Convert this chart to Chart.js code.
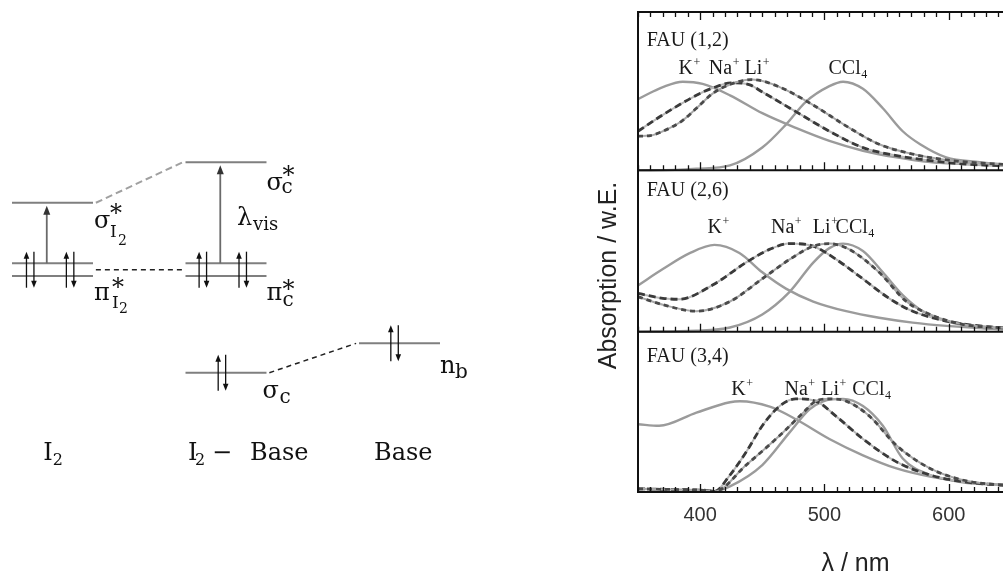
<!DOCTYPE html>
<html>
<head>
<meta charset="utf-8">
<title>I2 charge transfer spectra</title>
<script src="https://cdn.jsdelivr.net/npm/chart.js@4.4.1/dist/chart.umd.min.js"></script>
<style>
  html, body { margin: 0; padding: 0; background: #fff; overflow: hidden; width: 1003px; height: 578px; }
  canvas { position: absolute; top: 0; }
  #diagram { left: 0; }
  #spectra { left: 560px; }
</style>
</head>
<body>
<canvas id="diagram" width="560" height="578"></canvas>
<canvas id="spectra" width="513" height="590"></canvas>
<script>
// ---------- energy level diagram (left) ----------
// columns: 0 = I2, 1 = I2 - Base, 2 = Base ; energies in arbitrary units
var columnNames = ['I2', 'I2 - Base', 'Base'];
var levelCol = [0, 0, 0, 1, 1, 1, 1, 2];
var levelE   = [0.65, 0.062, -0.061, 1.043, 0.062, -0.062, -1.0, -0.715];
var corrFrom = [[0, 0.65], [0, 0], [1, -1.0]];
var corrTo   = [[1, 1.043], [1, 0], [2, -0.715]];
var exciteCol  = [0, 1];
var exciteFrom = [0.062, 0.062];
var exciteTo   = [0.65, 1.043];
var pairCol = [0, 0, 1, 1, 1, 2];
var pairOff = [-0.15, 0.08, -0.155, 0.075, -0.045, -0.05];
var pairE   = [0, 0, 0, 0, -1.0, -0.715];

// ---------- spectra (right), absorbance normalised per panel ----------
var tickNm = [400, 500, 600];
var panelNames = ['FAU (1,2)', 'FAU (2,6)', 'FAU (3,4)'];

var fau12K    = [[350,0.45],[360,0.49],[370,0.526],[386,0.56],[402,0.546],[424,0.474],[450,0.361],[477,0.268],[504,0.186],[531,0.124],[558,0.082],[585,0.052],[611,0.04],[640,0.03],[700,0.02]];
var fau12Na   = [[350,0.247],[370,0.351],[397,0.474],[410,0.52],[426,0.553],[440,0.54],[450,0.495],[477,0.371],[504,0.247],[531,0.144],[558,0.093],[585,0.062],[611,0.041],[640,0.03],[700,0.02]];
var fau12Li   = [[350,0.216],[360,0.22],[370,0.247],[385,0.31],[397,0.392],[410,0.485],[425,0.545],[442,0.573],[464,0.526],[491,0.412],[518,0.278],[544,0.165],[571,0.103],[598,0.066],[640,0.04],[700,0.03]];
var fau12CCl4 = [[350,0],[380,0.003],[397,0.01],[424,0.031],[450,0.144],[469,0.289],[485,0.433],[504,0.532],[515,0.56],[531,0.515],[547,0.392],[563,0.247],[577,0.165],[598,0.082],[625,0.052],[640,0.04],[700,0.03]];

var fau26K    = [[350,0.287],[370,0.388],[392,0.488],[411.5,0.538],[431.6,0.488],[450,0.368],[469,0.267],[491,0.187],[517.5,0.127],[544,0.086],[571,0.056],[598,0.036],[640,0.016],[700,0.01]];
var fau26Na   = [[350,0.237],[370,0.207],[383,0.201],[410,0.289],[437,0.429],[455.8,0.51],[472,0.546],[491,0.53],[509.5,0.448],[531,0.327],[552,0.207],[571,0.127],[598,0.066],[640,0.026],[700,0.015]];
var fau26Li   = [[350,0.217],[370,0.167],[397,0.127],[424,0.187],[450,0.328],[472,0.448],[491,0.53],[504,0.546],[520,0.51],[544,0.368],[566,0.187],[585,0.107],[611,0.046],[640,0.026],[700,0.015]];
var fau26CCl4 = [[350,0],[397,0.006],[424,0.026],[450,0.107],[472,0.247],[491,0.428],[504,0.518],[515,0.546],[531,0.5],[547,0.368],[563,0.227],[579,0.127],[598,0.066],[625,0.026],[640,0.016],[700,0.01]];

var fau34K    = [[350,0.423],[367,0.413],[397,0.495],[424,0.56],[432,0.566],[456,0.532],[477,0.454],[504,0.331],[531,0.229],[558,0.147],[585,0.096],[611,0.065],[640,0.045],[700,0.03]];
var fau34Na   = [[350,0.02],[380,0.015],[405,0.01],[411.5,0.004],[424,0.106],[437,0.249],[450,0.413],[464,0.536],[477,0.581],[493,0.567],[509,0.475],[531,0.331],[558,0.188],[585,0.106],[611,0.065],[640,0.045],[700,0.03]];
var fau34Li   = [[350,0.02],[380,0.015],[405,0.01],[411.5,0.004],[437,0.168],[464,0.352],[483,0.495],[493,0.567],[504,0.581],[517.5,0.567],[536,0.475],[558,0.29],[585,0.147],[611,0.075],[640,0.045],[700,0.03]];
var fau34CCl4 = [[350,0],[411.5,0.004],[424,0.035],[450,0.168],[472,0.372],[488,0.515],[499,0.566],[515,0.581],[531,0.536],[547,0.413],[563,0.209],[585,0.106],[611,0.061],[640,0.045],[700,0.03]];

// ---------- left chart ----------
var colPx = 173.5, col0Px = 52.5, eUnitPx = 103, e0Px = 269.7;
var halfW = 0.2334, spinHalf = 0.175, spinGap = 0.043;
var SERIF = '"DejaVu Serif", serif';

function seg(x1, y1, x2, y2, extra) {
  var ds = { data: [{x: x1, y: y1}, {x: x2, y: y2}], showLine: true, pointRadius: 0,
             borderColor: '#7f7f7f', borderWidth: 2, borderCapStyle: 'butt' };
  for (var k in extra) ds[k] = extra[k];
  return ds;
}

var diagramSets = [];
levelCol.forEach(function (c, i) {
  diagramSets.push(seg(c - halfW, levelE[i], c + halfW, levelE[i], {}));
});
corrFrom.forEach(function (f, i) {
  diagramSets.push(seg(f[0] + 0.25, f[1], corrTo[i][0] - 0.25, corrTo[i][1],
    i === 0 ? {borderColor: '#a0a0a0', borderWidth: 2, borderDash: [7, 4]}
            : {borderColor: '#222', borderWidth: 1.5, borderDash: [5, 4]}));
});

function arrow(ctx, x, yFrom, yTip, head, half) {
  var dir = yTip < yFrom ? 1 : -1;
  ctx.beginPath(); ctx.moveTo(x, yFrom); ctx.lineTo(x, yTip + dir * head * 0.7); ctx.stroke();
  ctx.beginPath(); ctx.moveTo(x, yTip); ctx.lineTo(x - half, yTip + dir * head);
  ctx.lineTo(x + half, yTip + dir * head); ctx.closePath(); ctx.fill();
}

function put(ctx, x, y, parts, family) {
  parts.forEach(function (p) {
    ctx.font = p[1] + 'px ' + family;
    ctx.fillText(p[0], x + p[2], y + p[3]);
  });
}

var diagramDeco = {
  id: 'diagramDeco',
  afterDatasetsDraw: function (chart) {
    var ctx = chart.ctx, sx = chart.scales.x, sy = chart.scales.y;
    ctx.save();
    ctx.strokeStyle = '#6a6a6a'; ctx.fillStyle = '#333'; ctx.lineWidth = 1.8;
    exciteCol.forEach(function (c, i) {
      arrow(ctx, sx.getPixelForValue(c - 0.033), sy.getPixelForValue(exciteFrom[i]),
            sy.getPixelForValue(exciteTo[i]) + 3, 9, 3.5);
    });
    ctx.strokeStyle = '#111'; ctx.fillStyle = '#111'; ctx.lineWidth = 1.3;
    pairCol.forEach(function (c, i) {
      var xu = sx.getPixelForValue(c + pairOff[i]);
      var xd = sx.getPixelForValue(c + pairOff[i] + spinGap);
      var top = sy.getPixelForValue(pairE[i] + spinHalf), bot = sy.getPixelForValue(pairE[i] - spinHalf);
      arrow(ctx, xu, bot, top, 7, 2.8);
      arrow(ctx, xd, top, bot, 7, 2.8);
    });
    ctx.restore();
  },
  afterDraw: function (chart) {
    var ctx = chart.ctx, sx = chart.scales.x, sy = chart.scales.y;
    function right(i) { return [sx.getPixelForValue(levelCol[i] + halfW), sy.getPixelForValue(levelE[i])]; }
    ctx.save();
    ctx.fillStyle = '#111'; ctx.textBaseline = 'alphabetic'; ctx.textAlign = 'left';
    var a;
    a = right(0); put(ctx, a[0], a[1], [['σ', 24, 1, 25], ['*', 24, 17, 18], ['I', 17, 17, 34], ['2', 14, 25, 42]], SERIF);
    a = right(2); put(ctx, a[0], a[1], [['π', 24, 1, 24], ['*', 24, 19, 19.5], ['I', 17, 19, 32], ['2', 14, 26, 37]], SERIF);
    a = right(3); put(ctx, a[0], a[1], [['σ', 24, 0, 27.7], ['*', 24, 16, 21], ['c', 20, 15, 31]], SERIF);
    a = right(5); put(ctx, a[0], a[1], [['π', 24, 0, 24], ['*', 24, 16, 21], ['c', 20, 16, 30]], SERIF);
    a = right(6); put(ctx, a[0], a[1], [['σ', 24, -4, 25.3], ['c', 20, 13, 30]], SERIF);
    a = right(7); put(ctx, a[0], a[1], [['n', 24, 0, 29.7], ['b', 20, 15, 34.7]], SERIF);
    // lambda_vis next to the charge transfer arrow
    var cx = sx.getPixelForValue(1), cy = sy.getPixelForValue(0);
    put(ctx, cx, cy, [['λ', 24, 11, -44.7], ['vis', 18, 27, -39.7]], SERIF);
    // column captions
    var by = 460;
    put(ctx, sx.getPixelForValue(0), by, [['I', 24, -9.2, 0], ['2', 16, 0.2, 5]], SERIF);
    put(ctx, sx.getPixelForValue(1), by, [['I', 24, -38, 0], ['2', 16, -31, 5], ['−', 24, -14, 0], ['Base', 24, 24, 0]], SERIF);
    put(ctx, sx.getPixelForValue(2), by, [['Base', 24, -25.5, 0]], SERIF);
    ctx.restore();
  }
};

new Chart(document.getElementById('diagram'), {
  type: 'scatter',
  data: { datasets: diagramSets },
  options: {
    responsive: false, animation: false, events: [],
    layout: { padding: 0 },
    plugins: { legend: { display: false }, tooltip: { enabled: false } },
    scales: {
      x: { type: 'linear', display: false, min: -col0Px / colPx, max: (560 - col0Px) / colPx },
      y: { type: 'linear', display: false, min: -(578 - e0Px) / eUnitPx, max: e0Px / eUnitPx }
    }
  },
  plugins: [diagramDeco]
});

// ---------- right chart ----------
var SANS = '"Liberation Sans", Arial, sans-serif';
var TIMES = '"Liberation Serif", "Times New Roman", serif';
var panelAxes = ['yTop', 'yMid', 'yBot'];
var panelEdges = [12, 174, 339, 503];
var panelSeries = [
  [fau12K, fau12Na, fau12Li, fau12CCl4],
  [fau26K, fau26Na, fau26Li, fau26CCl4],
  [fau34K, fau34Na, fau34Li, fau34CCl4]
];
// label anchors: [nm, panel value] for the panel name and species labels
var labelNameAt = [[357, 0.786], [357, 0.842], [357, 0.811]];
var labelSpeciesNm = [[382.6, 407, 435.7, 503.3], [406, 457, 490.7, 509], [425, 467.9, 497.4, 522.4]];
var labelSpeciesV = [0.611, 0.61, 0.604];

function xy(arr) { return arr.map(function (p) { return {x: p[0], y: p[1]}; }); }

var spectraSets = [];
panelSeries.forEach(function (s, i) {
  var ax = panelAxes[i];
  var common = { yAxisID: ax, pointRadius: 0, cubicInterpolationMode: 'monotone', fill: false };
  function add(data, style) { var d = { data: xy(data) }; for (var k in common) d[k] = common[k]; for (var k2 in style) d[k2] = style[k2]; spectraSets.push(d); }
  add(s[0], { borderColor: '#9b9b9b', borderWidth: 2.4, order: 5 });
  add(s[3], { borderColor: '#9b9b9b', borderWidth: 2.4, order: 5 });
  add(s[1], { borderColor: '#b8b8b8', borderWidth: 2, order: 4 });
  add(s[1], { borderColor: '#3a3a3a', borderWidth: 2.8, borderDash: [7, 4], order: 3 });
  add(s[2], { borderColor: '#a8a8a8', borderWidth: 2, order: 2 });
  add(s[2], { borderColor: '#4a4a4a', borderWidth: 2.8, borderDash: [5, 4], order: 1 });
});

var yScales = {};
panelAxes.forEach(function (id, i) {
  var top = panelEdges[i], bot = panelEdges[i + 1], h = bot - top;
  yScales[id] = { type: 'linear', display: false,
                  min: -(panelEdges[3] - bot) / h, max: (bot - panelEdges[0]) / h };
});

var frame = {
  id: 'frame',
  afterDatasetsDraw: function (chart) {
    var ctx = chart.ctx, a = chart.chartArea, sx = chart.scales.x;
    ctx.save();
    ctx.strokeStyle = '#111'; ctx.lineWidth = 2;
    ctx.beginPath(); ctx.moveTo(a.left, a.top - 1); ctx.lineTo(a.left, a.bottom + 1); ctx.stroke();
    panelAxes.forEach(function (id, i) {
      var s = chart.scales[id];
      var top = s.getPixelForValue(1), bot = s.getPixelForValue(0);
      ctx.lineWidth = 2;
      ctx.beginPath();
      if (i === 0) { ctx.moveTo(a.left, top); ctx.lineTo(a.right, top); }
      ctx.moveTo(a.left, bot); ctx.lineTo(a.right, bot);
      ctx.stroke();
      ctx.lineWidth = 1.3;
      ctx.beginPath();
      for (var v = 350; v <= 700; v += 10) {
        var px = Math.round(sx.getPixelForValue(v)) + 0.5;
        var len = v % 100 === 0 ? 8 : 5;
        if (i === 0) { ctx.moveTo(px, top); ctx.lineTo(px, top + len); }
        ctx.moveTo(px, bot); ctx.lineTo(px, bot - len);
      }
      ctx.stroke();
    });
    ctx.restore();
  },
  afterDraw: function (chart) {
    var ctx = chart.ctx, sx = chart.scales.x;
    ctx.save();
    ctx.fillStyle = '#1a1a1a'; ctx.textBaseline = 'alphabetic'; ctx.textAlign = 'left';
    panelAxes.forEach(function (id, i) {
      var s = chart.scales[id];
      ctx.font = '20px ' + TIMES;
      ctx.fillText(panelNames[i], sx.getPixelForValue(labelNameAt[i][0]), s.getPixelForValue(labelNameAt[i][1]));
      var y = s.getPixelForValue(labelSpeciesV[i]);
      var sp = [[['K', 20, 0], ['+', 12, -8]], [['Na', 20, 0], ['+', 12, -8]], [['Li', 20, 0], ['+', 12, -8]], [['CCl', 20, 0], ['4', 12, 4]]];
      sp.forEach(function (parts, j) {
        var x = sx.getPixelForValue(labelSpeciesNm[i][j]);
        parts.forEach(function (p) {
          ctx.font = p[1] + 'px ' + TIMES;
          ctx.fillText(p[0], x, y + p[2]);
          x += ctx.measureText(p[0]).width + (p[1] < 20 ? 1 : 0.5);
        });
      });
    });
    // y axis caption
    ctx.translate(49, (panelEdges[0] + panelEdges[3]) / 2 + 18);
    ctx.rotate(-Math.PI / 2);
    ctx.textAlign = 'center'; ctx.textBaseline = 'middle';
    ctx.fillStyle = '#222';
    ctx.font = '25px ' + SANS;
    ctx.fillText('Absorption / w.E.', 0, 0);
    ctx.restore();
  }
};

var xScale = {
  type: 'linear', min: 350, max: 700,
  grid: { display: false, drawTicks: false },
  border: { display: false },
  afterBuildTicks: function (axis) { axis.ticks = tickNm.map(function (v) { return {value: v}; }); },
  ticks: { padding: 11, color: '#333', font: { family: SANS, size: 20 } },
  title: { display: true, text: 'λ / nm', color: '#222', font: { family: SANS, size: 25 }, padding: { top: 11, bottom: 4 } }
};
var allScales = { x: xScale };
for (var k in yScales) allScales[k] = yScales[k];

new Chart(document.getElementById('spectra'), {
  type: 'line',
  data: { datasets: spectraSets },
  options: {
    responsive: false, animation: false, events: [],
    layout: { padding: { left: 78, right: 0, top: 12, bottom: 7 } },
    plugins: { legend: { display: false }, tooltip: { enabled: false } },
    scales: allScales
  },
  plugins: [frame]
});
</script>
</body>
</html>
